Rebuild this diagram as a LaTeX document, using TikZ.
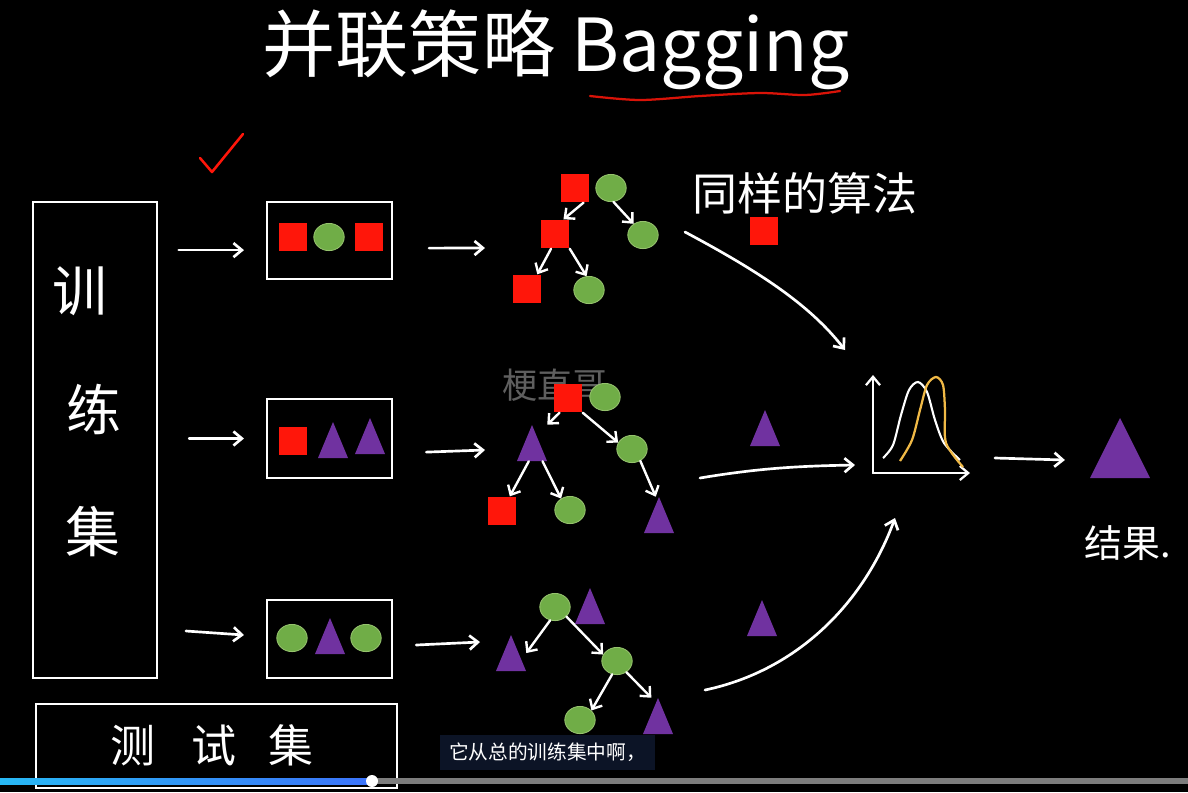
\documentclass[tikz,border=0pt]{standalone}
\usepackage{fontspec}
\setmainfont{Noto Sans CJK SC}
\usepackage{xcolor}
\usepackage{tikz}
\usetikzlibrary{arrows.meta,shapes.geometric,positioning,calc}

\definecolor{sqred}{RGB}{255,22,10}
\definecolor{dotgreen}{RGB}{112,173,71}
\definecolor{dotrim}{RGB}{150,195,110}
\definecolor{tripurple}{RGB}{112,50,160}
\definecolor{curveorange}{RGB}{240,185,70}
\definecolor{subnavy}{RGB}{12,20,38}
\definecolor{barcyan}{RGB}{40,185,245}
\definecolor{barblue}{RGB}{60,115,250}
\definecolor{bargray}{RGB}{125,125,125}
\definecolor{markgray}{RGB}{95,95,95}

\tikzset{
	sq/.style={fill=sqred, minimum size=0.72cm, inner sep=0pt},
	dot/.style={ellipse, fill=dotgreen, draw=dotrim, line width=0.6pt, minimum width=0.76cm, minimum height=0.68cm, inner sep=0pt},
	tri/.style={minimum width=0.75cm, minimum height=0.9cm, inner sep=0pt,
		path picture={\fill[tripurple] (path picture bounding box.south west) -- (path picture bounding box.south east) -- (path picture bounding box.north) -- cycle;}},
	box/.style={draw=white, line width=1.3pt, inner sep=0pt},
	hand/.style={draw=white, line width=1.9pt, line cap=round, line join=round, -{Straight Barb[length=6pt,width=10pt]}},
	treearrow/.style={hand, line width=1.7pt, -{Straight Barb[length=5.5pt,width=10pt]}},
	chalk/.style={text=white, font=\fontsize{39}{40}\selectfont},
}

\begin{document}
\begin{tikzpicture}[x=0.025cm,y=-0.025cm]
		\fill[black] (0,0) rectangle (1188,792);
		\useasboundingbox (0,0) rectangle (1188,792);

		\node[text=white, font=\fontsize{52}{60}\selectfont] (title) at (556,50) {并联策略 Bagging};
		\draw[sqred!85!black, line width=1.6pt, line cap=round] plot[smooth] coordinates {(590,96) (640,100) (700,96) (760,93) (805,95) (840,91)};
		\draw[sqred, line width=1.8pt, line cap=round, line join=round] (200,158) -- (212,172) -- (243,134);

		\node[box, minimum width=3.1cm, minimum height=11.9cm] (trainbox) at (95,440) {};
		\node[chalk] (xun) at (80,291) {训};
		\node[chalk] (lian) at (94,409) {练};
		\node[chalk] (ji) at (93,532) {集};

		\node[box, minimum width=9.03cm, minimum height=2.1cm] (testbox) at (216.5,746) {};
		\node[text=white, font=\fontsize{32}{34}\selectfont] (testtext) at (212,745) {测\hspace{0.9cm}试\hspace{0.8cm}集};

		\node[box, minimum width=3.13cm, minimum height=1.93cm] (sampA) at (329.5,240.5) {};
		\node[box, minimum width=3.13cm, minimum height=1.98cm] (sampB) at (329.5,438.5) {};
		\node[box, minimum width=3.13cm, minimum height=1.95cm] (sampC) at (329.5,639) {};

		\draw[hand] ([xshift=0.52cm,yshift=-0.24cm]trainbox.east |- sampA.west) -- ([xshift=-0.55cm,yshift=-0.24cm]sampA.west);
		\draw[hand] ([xshift=0.78cm]trainbox.east |- sampB.west) -- ([xshift=-0.55cm]sampB.west);
		\draw[hand] ([xshift=0.7cm,yshift=0.2cm]trainbox.east |- sampC.west) -- ([xshift=-0.55cm,yshift=0.1cm]sampC.west);

		\node[sq] (a1) at (293,237) {};
		\node[dot] (a2) at (329,237) {};
		\node[sq] (a3) at (369,237) {};
		\node[sq] (b1) at (293,441) {};
		\node[tri] (b2) at (333,440) {};
		\node[tri] (b3) at (370,436) {};
		\node[dot] (c1) at (292,638) {};
		\node[tri] (c2) at (330,636) {};
		\node[dot] (c3) at (366,638) {};

		\coordinate (treeA) at (485,248);
		\coordinate (treeB) at (485,450);
		\coordinate (treeC) at (480,642);
		\draw[hand] ([xshift=0.9cm,yshift=-0.19cm]sampA.east) -- (treeA);
		\draw[hand] ([xshift=0.83cm,yshift=-0.34cm]sampB.east) -- (treeB);
		\draw[hand] ([xshift=0.58cm,yshift=-0.15cm]sampC.east) -- (treeC);

		\node[text=markgray, font=\fontsize{25}{26}\selectfont] (mark) at (555,385) {梗直哥};

		\node[sq] (t1r) at (575,188) {};
		\node[dot] (t1rd) at (611,188) {};
		\node[sq] (t1m) at (555,234) {};
		\node[dot] (t1n) at (643,235) {};
		\node[sq] (t1ml) at (527,289) {};
		\node[dot] (t1mr) at (589,290) {};
		\draw[treearrow] (t1r.-60) -- (t1m.60);
		\draw[treearrow] (t1rd.-80) -- (t1n.130);
		\draw[treearrow] (t1m.-105) -- (t1ml.55);
		\draw[treearrow] (t1m.-45) -- (t1mr.100);

		\node[sq] (t2r) at (568,398) {};
		\node[dot] (t2rd) at (605,397) {};
		\node[tri] (t2a) at (532,443) {};
		\node[dot] (t2b) at (632,449) {};
		\node[sq] (t2c) at (502,511) {};
		\node[dot] (t2d) at (570,510) {};
		\node[tri] (t2e) at (659,515) {};
		\draw[treearrow] (t2r.-120) -- (t2a.north east);
		\draw[treearrow] (t2r.-45) -- (t2b.155);
		\draw[treearrow] (t2a.-100) -- (t2c.62);
		\draw[treearrow] (t2a.-60) -- (t2d.128);
		\draw[treearrow] (t2b.-55) -- (t2e.100);

		\node[dot] (t3r) at (555,607) {};
		\node[tri] (t3rt) at (590,606) {};
		\node[tri] (t3a) at (511,653) {};
		\node[dot] (t3b) at (617,661) {};
		\node[dot] (t3c) at (580,720) {};
		\node[tri] (t3d) at (658,716) {};
		\draw[treearrow] (t3r.-110) -- (t3a.east);
		\draw[treearrow] (t3r.-40) -- (t3b.155);
		\draw[treearrow] (t3b.-110) -- (t3c.40);
		\draw[treearrow] (t3b.-50) -- (t3d.110);

		\node[text=white, font=\fontsize{32}{34}\selectfont] (samealg) at (805,193) {同样的算法};
		\node[sq] (algsq) at (764,231) {};
		\node[tri] (voteB) at (765,428) {};
		\node[tri] (voteC) at (762,618) {};

		\coordinate (fromA) at (685,232);
		\coordinate (intoA) at (845,350);
		\coordinate (fromB) at (700,478);
		\coordinate (intoB) at (855,465);
		\coordinate (fromC) at (705,690);
		\coordinate (intoC) at (895,518);
		\draw[hand] (fromA) .. controls (760,272) and (810,305) .. (intoA);
		\draw[hand] (fromB) .. controls (760,468) and (800,466) .. (intoB);
		\draw[hand] (fromC) .. controls (800,670) and (865,600) .. (intoC);

		\coordinate (origin) at (873,473);
		\draw[hand, line width=1.6pt] (origin) -- (873,375);
		\draw[hand, line width=1.6pt] (origin) -- (970,473);
		\draw[white, line width=1.5pt] plot[smooth] coordinates {(883,458) (893,445) (901,415) (909,390) (918,382) (927,392) (935,420) (944,443) (960,460)};
		\draw[curveorange, line width=1.6pt] plot[smooth] coordinates {(900,461) (912,440) (920,410) (927,385) (936,377) (943,385) (945,410) (946,443) (963,467)};

		\node[tri, minimum width=1.5cm, minimum height=1.5cm] (final) at (1120,448) {};
		\coordinate (fromPlot) at (995,458);
		\draw[hand] (fromPlot) -- ([xshift=-0.62cm,yshift=-0.3cm]final.west);
		\node[text=white, font=\fontsize{27}{28}\selectfont] (result) at (1128,543) {结果.};

		\node[fill=subnavy, text=white, font=\fontsize{14}{16}\selectfont, minimum width=5.38cm, minimum height=0.88cm, inner sep=0pt] (caption) at (547.5,752.5) {它从总的训练集中啊，};

		\fill[bargray] (372,778) rectangle (1188,784);
		\shade[left color=barcyan, right color=barblue] (0,778) rectangle (372,784);
		\fill[white] (372,781) circle (0.15cm);
	\end{tikzpicture}
\end{document}
